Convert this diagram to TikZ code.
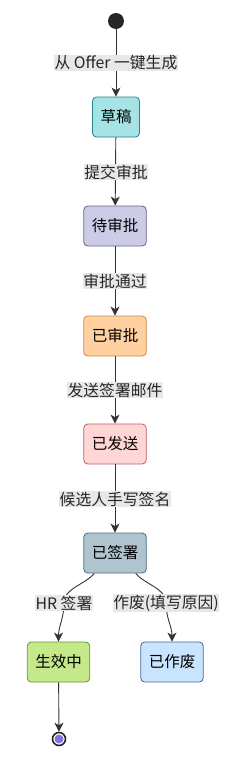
\documentclass[tikz,border=0pt]{standalone}
\usepackage{fontspec}
\setmainfont{Noto Sans CJK SC}
\usetikzlibrary{arrows.meta}
\definecolor{edgec}{HTML}{333333}
\definecolor{lblbg}{HTML}{E8E8E8}
\tikzset{
  state/.style={draw, rounded corners=4pt, line width=0.8pt, minimum height=40pt, inner xsep=8pt, font=\fontsize{15.5}{15.5}\selectfont, text=black},
  lbl/.style={fill=lblbg, inner sep=0.6pt, font=\fontsize{15.8}{16}\selectfont, text=black!85},
  edge/.style={draw=edgec, line width=0.9pt, -{Stealth[length=9pt,width=9pt,inset=2.5pt]}},
  plain/.style={draw=edgec, line width=0.9pt}
}
\begin{document}
\begin{tikzpicture}[x=1pt,y=-1pt]
\useasboundingbox (0,0) rectangle (237,761);
\node[circle, fill=black!85, minimum size=16pt, inner sep=0] (start) at (116,21) {};
\node[state, fill={rgb,255:red,166;green,227;blue,229}, draw={rgb,255:red,40;green,130;blue,140}] (draft) at (116,117) {草稿};
\node[state, fill={rgb,255:red,204;green,204;blue,230}, draw={rgb,255:red,100;green,100;blue,150}] (pend) at (115,226) {待审批};
\node[state, fill={rgb,255:red,255;green,208;blue,160}, draw={rgb,255:red,208;green,138;blue,64}] (appr) at (115,336) {已审批};
\node[state, fill={rgb,255:red,255;green,214;blue,214}, draw={rgb,255:red,192;green,96;blue,96}] (sent) at (115,444) {已发送};
\node[state, fill={rgb,255:red,176;green,196;blue,208}, draw={rgb,255:red,74;green,106;blue,128}] (sign) at (115,553) {已签署};
\node[state, fill={rgb,255:red,196;green,232;blue,138}, draw={rgb,255:red,100;green,150;blue,50}] (act) at (58.5,662) {生效中};
\node[state, fill={rgb,255:red,200;green,228;blue,255}, draw={rgb,255:red,74;green,106;blue,144}] (void) at (172,662) {已作废};
\node[circle, draw=black!85, line width=1.6pt, fill=white, minimum size=13pt, inner sep=0] (end) at (59,739) {};
\node[circle, fill={rgb,255:red,138;green,112;blue,224}, minimum size=9pt, inner sep=0] (endin) at (end.center) {};

\draw[edge] (start) -- (draft);
\draw[edge] (draft) -- (pend);
\draw[edge] (pend) -- (appr);
\draw[edge] (appr) -- (sent);
\draw[edge] (sent) -- (sign);
\coordinate (ls) at ([xshift=11pt]sign.south west);
\coordinate (rs) at ([xshift=-11pt]sign.south east);
\coordinate (lm) at (64,603);
\coordinate (rm) at (166,603);
\draw[edge] (ls) to[out=-130,in=90,looseness=0.9] (lm) to[out=-90,in=90] (act.north);
\draw[edge] (rs) to[out=-50,in=90,looseness=0.9] (rm) to[out=-90,in=90] (void.north);
\draw[edge] (act) -- (end);

\node[lbl] (l1) at (116,63) {从 Offer 一键生成};
\node[lbl] (l2) at (116,172) {提交审批};
\node[lbl] (l3) at (115,281) {审批通过};
\node[lbl] (l4) at (115,390) {发送签署邮件};
\node[lbl] (l5) at (115,499) {候选人手写签名};
\node[lbl] (l6) at (64,603) {HR 签署};
\node[lbl] (l7) at (166,603) {作废(填写原因)};
\end{tikzpicture}
\end{document}
